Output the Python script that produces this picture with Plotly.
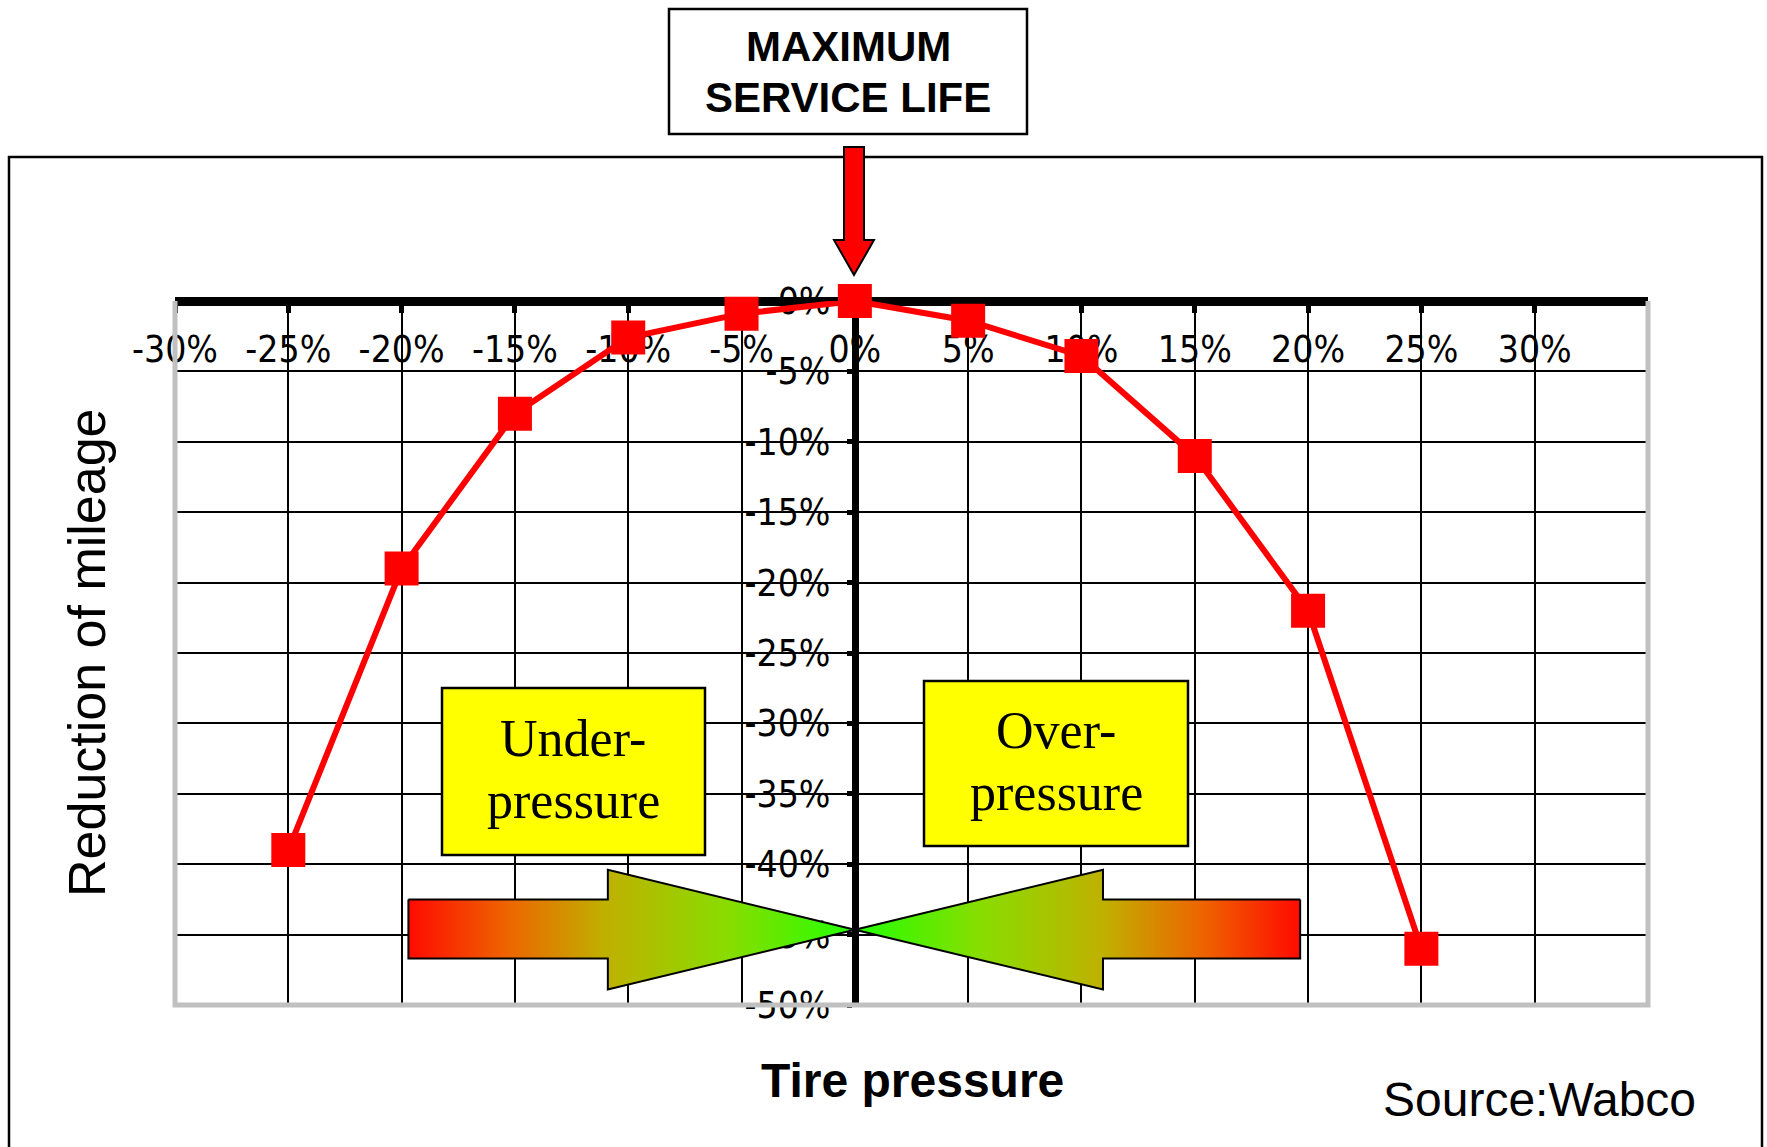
import plotly.graph_objects as go

# ---- data ----
pressure_pct = [-25, -20, -15, -10, -5, 0, 5, 10, 15, 20, 25]
mileage_reduction_pct = [-39, -19, -8, -2.6, -0.9, 0, -1.4, -3.9, -11, -22, -46]
x_tick_vals = [-30, -25, -20, -15, -10, -5, 0, 5, 10, 15, 20, 25, 30]
x_tick_text = ["-30%", "-25%", "-20%", "-15%", "-10%", "-5%", "0%", "5%", "10%", "15%", "20%", "25%", "30%"]
y_tick_vals = [0, -5, -10, -15, -20, -25, -30, -35, -40, -45, -50]
y_tick_text = ["0%", "-5%", "-10%", "-15%", "-20%", "-25%", "-30%", "-35%", "-40%", "-45%", "-50%"]

# ---- layout geometry (pixels of the 1767x1147 canvas) ----
W, H = 1767, 1147
PL, PR, PT, PB = 175, 1648, 301, 1005


def X(px):
    return (px - PL) / (PR - PL)


def Y(py):
    return (PB - py) / (PB - PT)


NARROW = "Liberation Sans Narrow, Arial Narrow, DejaVu Sans Condensed, sans-serif"
SANS = "Liberation Sans, Arial, sans-serif"
SERIF = "Liberation Serif, Times New Roman, serif"

fig = go.Figure()

# gradient arrows (decoration)
left_arrow_x = [-19.7, -10.9, -10.9, 0, -10.9, -10.9, -19.7, -19.7]
left_arrow_y = [-42.5, -42.5, -40.4, -44.65, -48.9, -46.7, -46.7, -42.5]
right_arrow_x = [19.65, 10.95, 10.95, 0, 10.95, 10.95, 19.65, 19.65]
right_arrow_y = [-42.5, -42.5, -40.4, -44.65, -48.9, -46.7, -46.7, -42.5]

fig.add_trace(go.Scatter(
    x=left_arrow_x, y=left_arrow_y, mode="lines", fill="toself",
    line=dict(color="black", width=2),
    fillgradient=dict(type="horizontal", colorscale=[
        [0, "#ff0a00"], [0.22, "#ee6400"], [0.44, "#c0b000"], [0.72, "#88dd00"], [1, "#22ff00"]]),
    hoverinfo="skip", showlegend=False))
fig.add_trace(go.Scatter(
    x=right_arrow_x, y=right_arrow_y, mode="lines", fill="toself",
    line=dict(color="black", width=2),
    fillgradient=dict(type="horizontal", colorscale=[
        [0, "#22ff00"], [0.28, "#88dd00"], [0.56, "#c0b000"], [0.78, "#ee6400"], [1, "#ff0a00"]]),
    hoverinfo="skip", showlegend=False))

# main series
fig.add_trace(go.Scatter(
    x=pressure_pct, y=mileage_reduction_pct, mode="lines+markers",
    line=dict(color="#ff0000", width=6),
    marker=dict(symbol="square", size=34, color="#ff0000"),
    cliponaxis=False, showlegend=False))

fig.update_layout(
    width=W, height=H,
    margin=dict(l=PL, r=W - PR, t=PT, b=H - PB, pad=0),
    paper_bgcolor="white", plot_bgcolor="white",
    template="none", showlegend=False,
    xaxis=dict(
        range=[-30, 35], tickmode="array", tickvals=x_tick_vals, ticktext=x_tick_text,
        showgrid=True, gridcolor="black", gridwidth=2, zeroline=False,
        showline=True, linecolor="black", linewidth=9,
        anchor="free", position=1, side="bottom",
        ticks="outside", ticklen=7, tickwidth=5, tickcolor="black",
        ticklabelstandoff=5,
        tickfont=dict(family=NARROW, size=37, color="black"),
        layer="below traces", fixedrange=True),
    yaxis=dict(
        range=[-50, 0], tickmode="array", tickvals=y_tick_vals, ticktext=y_tick_text,
        showgrid=True, gridcolor="black", gridwidth=2, zeroline=False,
        showline=True, linecolor="black", linewidth=7,
        anchor="free", position=30 / 65, side="left",
        ticks="outside", ticklen=5, tickwidth=5, tickcolor="black",
        ticklabelstandoff=9,
        tickfont=dict(family=NARROW, size=37, color="black"),
        layer="below traces", fixedrange=True),
)

shapes = [
    # gray plot border (left, bottom, right)
    dict(type="path", xref="paper", yref="paper",
         path="M 0,1 L 0,0 L 1,0 L 1,1", line=dict(color="#c0c0c0", width=5), layer="above"),
    # outer frame
    dict(type="rect", xref="paper", yref="paper", x0=X(9), x1=X(1762), y0=Y(1180), y1=Y(157),
         line=dict(color="black", width=2.5), layer="below"),
    # title box
    dict(type="rect", xref="paper", yref="paper", x0=X(669), x1=X(1027), y0=Y(134), y1=Y(9),
         line=dict(color="black", width=2.5), fillcolor="white", layer="above"),
    # red down arrow
    dict(type="path", xref="paper", yref="paper",
         path=(f"M {X(844)},{Y(147)} L {X(864)},{Y(147)} L {X(864)},{Y(240)} L {X(874)},{Y(240)} "
               f"L {X(854)},{Y(275)} L {X(834)},{Y(240)} L {X(844)},{Y(240)} Z"),
         line=dict(color="black", width=2), fillcolor="#ff0000", layer="above"),
    # yellow boxes
    dict(type="rect", xref="paper", yref="paper", x0=X(442), x1=X(705), y0=Y(855), y1=Y(688),
         line=dict(color="black", width=2.5), fillcolor="#ffff00", layer="above"),
    dict(type="rect", xref="paper", yref="paper", x0=X(924), x1=X(1188), y0=Y(846), y1=Y(681),
         line=dict(color="black", width=2.5), fillcolor="#ffff00", layer="above"),
]
fig.update_layout(shapes=shapes)


def ann(text, px, py, family, size, weight="normal", angle=0):
    return dict(text=text, xref="paper", yref="paper", x=X(px), y=Y(py),
                xanchor="center", yanchor="middle", showarrow=False, textangle=angle,
                font=dict(family=family, size=size, color="black", weight=weight))


fig.update_layout(annotations=[
    ann("MAXIMUM", 848, 47, SANS, 42, "bold"),
    ann("SERVICE LIFE", 848, 97, SANS, 42, "bold"),
    ann("Under-", 573, 738, SERIF, 52),
    ann("pressure", 573, 800, SERIF, 52),
    ann("Over-", 1056, 730, SERIF, 52),
    ann("pressure", 1056, 792, SERIF, 52),
    ann("Tire pressure", 912, 1080, SANS, 48, "bold"),
    ann("Source:Wabco", 1539, 1099, SANS, 48),
    ann("Reduction of mileage", 87, 653, SANS, 52, angle=-90),
])

fig.write_html("out.html", config={"displayModeBar": False},
               post_script="document.body.style.margin='0px';")
